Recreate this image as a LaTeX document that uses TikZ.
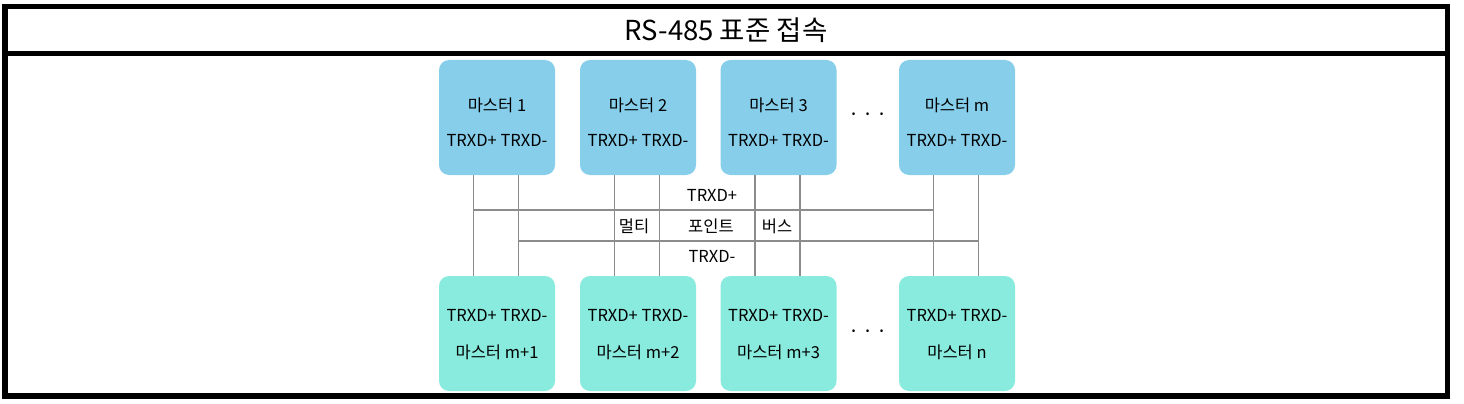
\documentclass[tikz,border=0pt]{standalone}
\usepackage{fontspec}
\setmainfont{Noto Sans CJK KR}
\definecolor{topc}{HTML}{87CEEB}
\definecolor{botc}{HTML}{89EBDE}
\definecolor{wirec}{HTML}{8C8C8C}
\begin{document}
\begin{tikzpicture}[x=1pt,y=-1pt,
  frame/.style={line width=5.5pt,draw=black},
  mbox/.style={rounded corners=10pt,minimum width=116pt,minimum height=115pt,inner sep=0pt,draw=none},
  topbox/.style={mbox,fill=topc},
  botbox/.style={mbox,fill=botc},
  lbl/.style={inner sep=0pt,font=\fontsize{16.5}{18}\selectfont,text=black},
  dots/.style={inner sep=0pt,font=\fontsize{20}{22}\selectfont,text=black},
  wire/.style={draw=wirec,line width=1.5pt}]
\useasboundingbox (0,0) rectangle (1464,404);
\draw[frame] (4.75,6.75) rectangle (1447.5,396.2);
\draw[frame] (4.75,53.5) -- (1447.5,53.5);
\node[inner sep=0pt,font=\fontsize{27.5}{30}\selectfont] (title) at (726,30) {RS-485 표준 접속};
% top boxes
\node[topbox] (m1) at (497,117.5) {};
\node[topbox] (m2) at (638,117.5) {};
\node[topbox] (m3) at (778.5,117.5) {};
\node[topbox] (m4) at (957,117.5) {};
% bottom boxes
\node[botbox] (n1) at (497,333.5) {};
\node[botbox] (n2) at (638,333.5) {};
\node[botbox] (n3) at (778.5,333.5) {};
\node[botbox] (n4) at (957,333.5) {};
% top labels
\node[lbl] (m1a) at (497,105) {마스터 1};
\node[lbl] (m1b) at (497,140) {TRXD+ TRXD-};
\node[lbl] (m2a) at (638,105) {마스터 2};
\node[lbl] (m2b) at (638,140) {TRXD+ TRXD-};
\node[lbl] (m3a) at (778.5,105) {마스터 3};
\node[lbl] (m3b) at (778.5,140) {TRXD+ TRXD-};
\node[lbl] (m4a) at (957,105) {마스터 m};
\node[lbl] (m4b) at (957,140) {TRXD+ TRXD-};
% bottom labels
\node[lbl] (n1a) at (497,315) {TRXD+ TRXD-};
\node[lbl] (n1b) at (497,352) {마스터 m+1};
\node[lbl] (n2a) at (638,315) {TRXD+ TRXD-};
\node[lbl] (n2b) at (638,352) {마스터 m+2};
\node[lbl] (n3a) at (778.5,315) {TRXD+ TRXD-};
\node[lbl] (n3b) at (778.5,352) {마스터 m+3};
\node[lbl] (n4a) at (957,315) {TRXD+ TRXD-};
\node[lbl] (n4b) at (957,352) {마스터 n};
% dots
\node[dots] (d1) at (868,117) {·\hspace{3pt}·\hspace{3pt}·};
\node[dots] (d2) at (868,334) {·\hspace{3pt}·\hspace{3pt}·};
% wires
\foreach \i in {1,2,3,4}{
  \draw[wire] ([xshift=-23.5pt]m\i.south) -- ([xshift=-23.5pt]n\i.north);
  \draw[wire] ([xshift=21.5pt]m\i.south) -- ([xshift=21.5pt]n\i.north);
}
\coordinate (p1) at ([xshift=-23.5pt]m1.south |- 0,210);
\coordinate (p4) at ([xshift=-23.5pt]m4.south |- 0,210);
\coordinate (q1) at ([xshift=21.5pt]m1.south |- 0,241);
\coordinate (q4) at ([xshift=21.5pt]m4.south |- 0,241);
\draw[wire] (p1) -- (p4);
\draw[wire] (q1) -- (q4);
% bus labels
\node[lbl] (tp) at (712,195) {TRXD+};
\node[lbl] (b1) at (634,226) {멀티};
\node[lbl] (b2) at (711,226) {포인트};
\node[lbl] (b3) at (777,226) {버스};
\node[lbl] (tm) at (712,256) {TRXD-};
\end{tikzpicture}
\end{document}
